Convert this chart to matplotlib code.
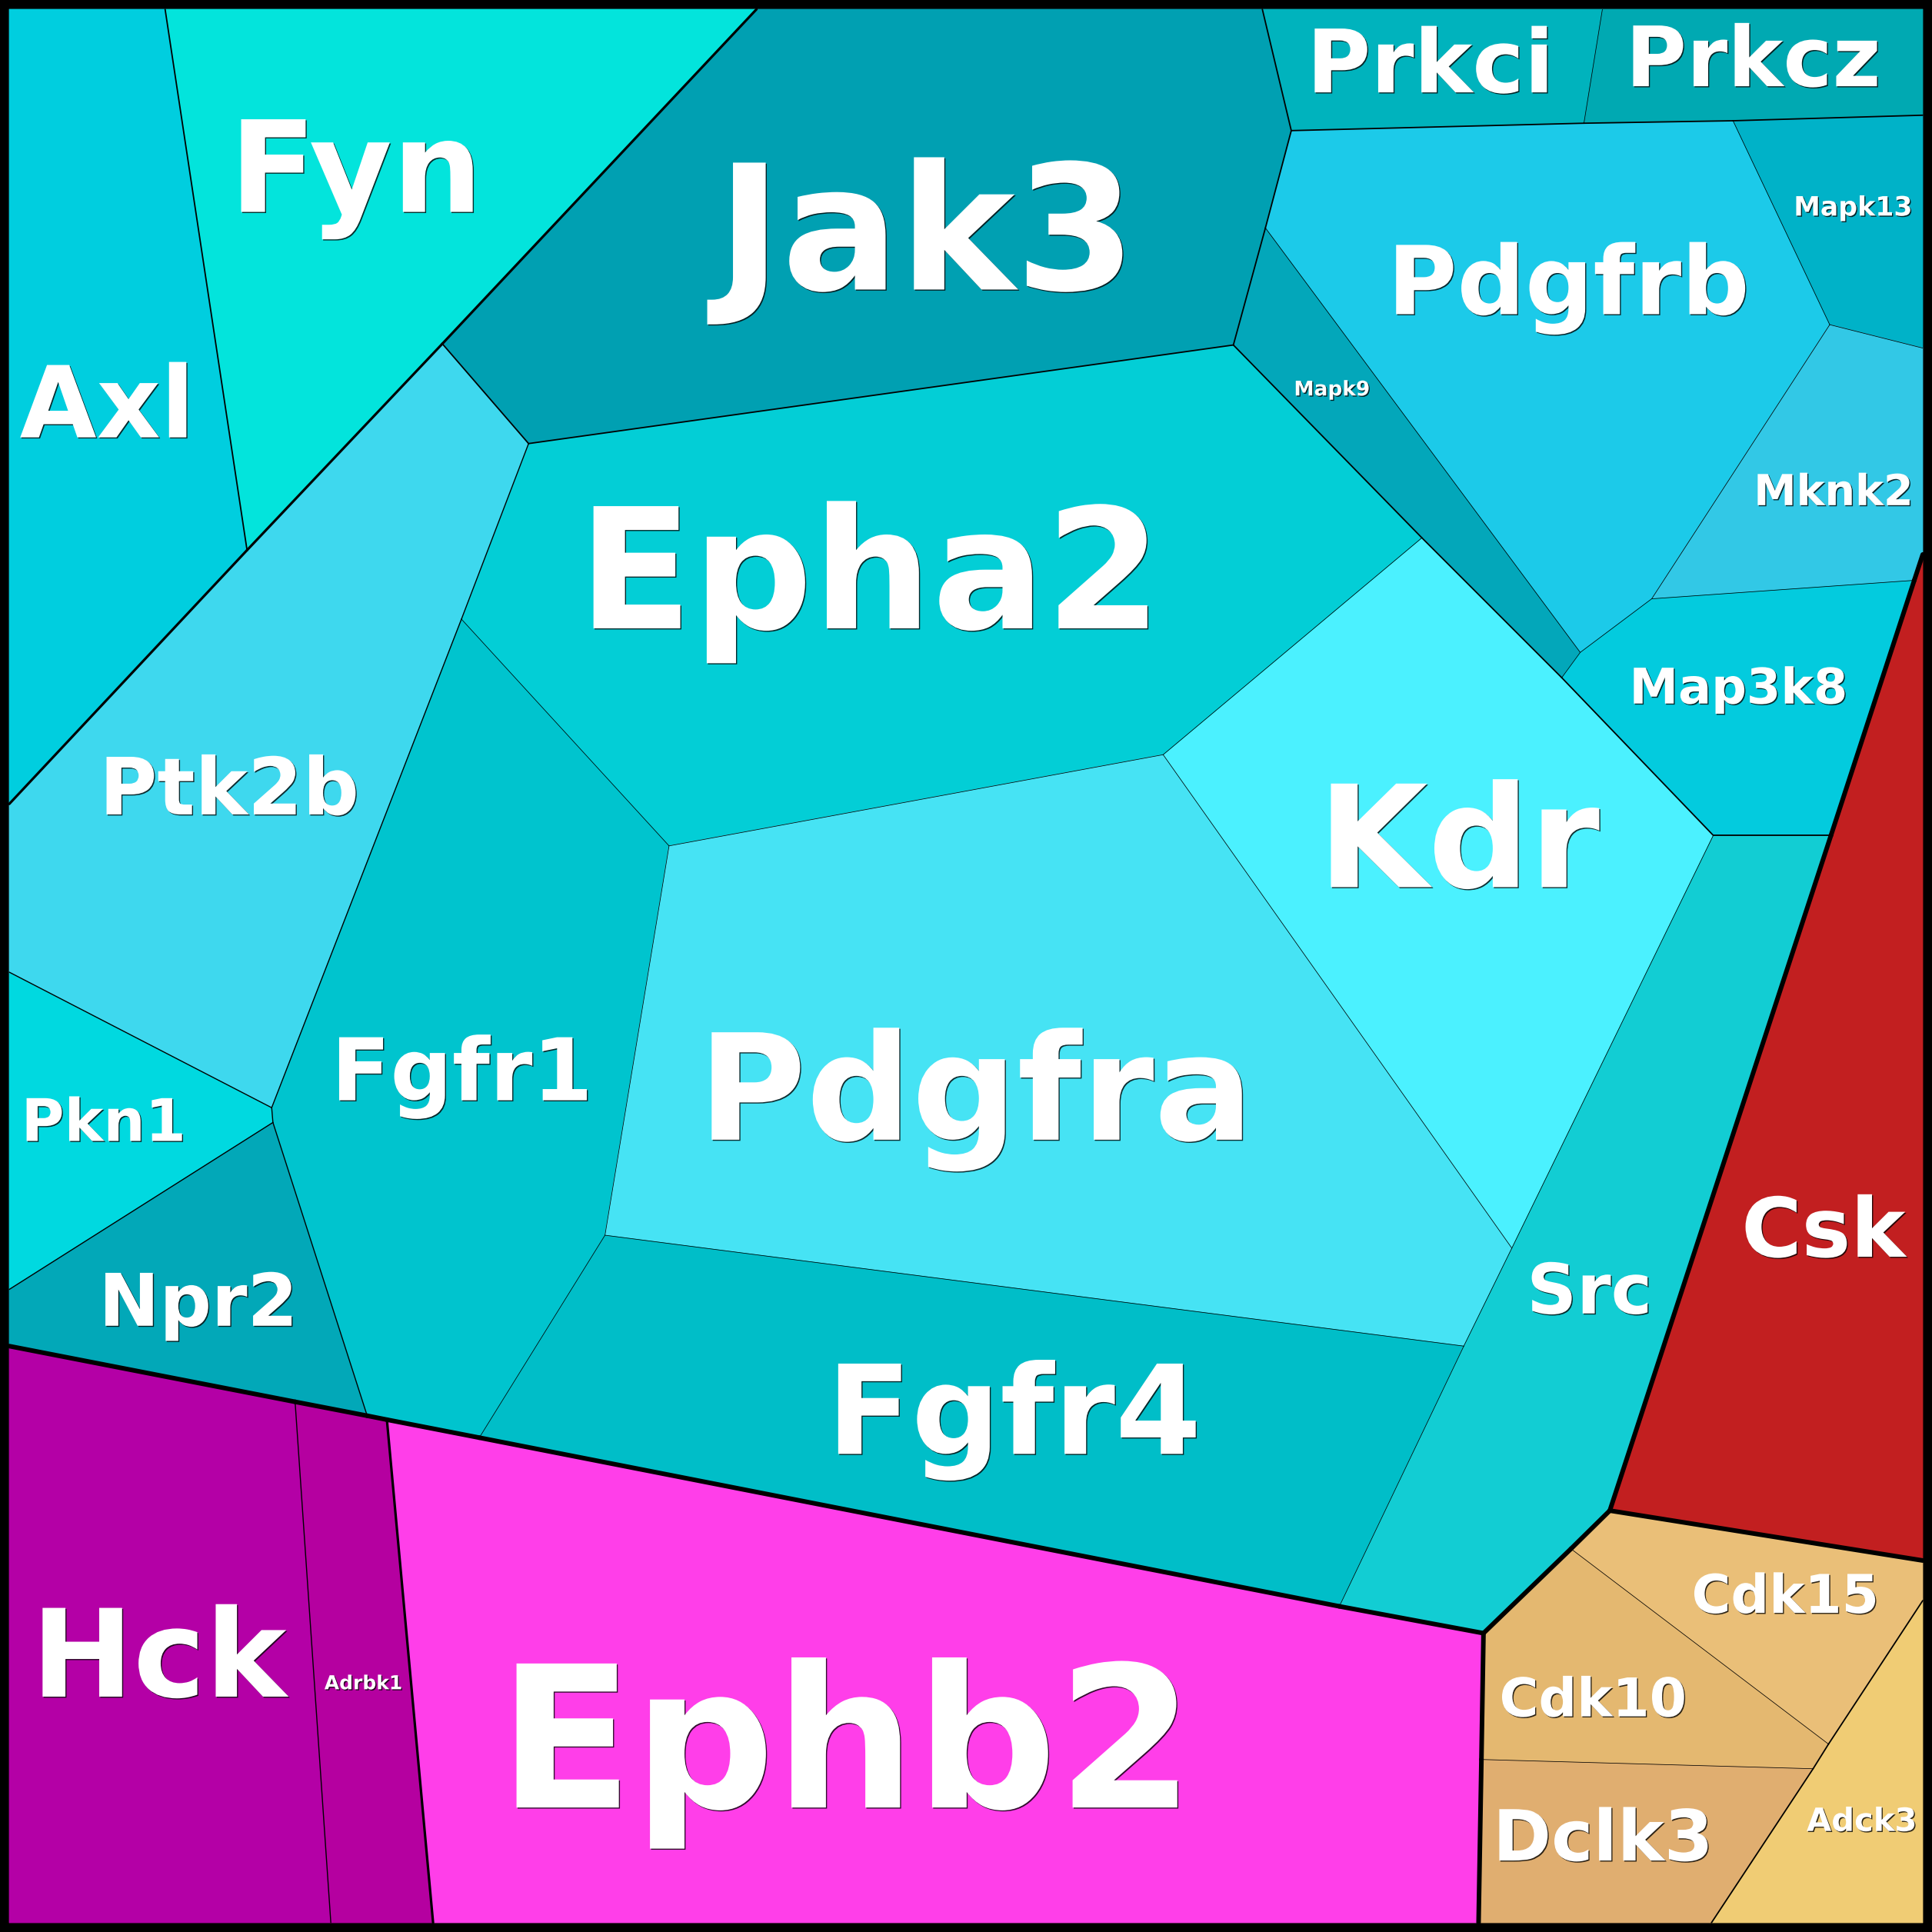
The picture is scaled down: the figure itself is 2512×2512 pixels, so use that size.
import matplotlib
matplotlib.use("Agg")
import matplotlib.pyplot as plt
import matplotlib.patheffects as pe
from matplotlib.patches import Polygon
from matplotlib.collections import LineCollection

# canvas is 1568 x 1568 units, y grows downwards, frame inner edge at 7.5
LO, HI = 7.5, 1560.5

# shared corner points of the voronoi cells
vertices = {
    "TL": (LO, LO), "TR": (HI, LO), "BL": (LO, HI), "BR": (HI, HI),
    "a1": (134, LO), "a2": (614, LO), "a3": (1024.5, LO), "a4": (1300.5, LO),
    "b1": (359, 279), "b2": (200.5, 446.5), "b3": (LO, 652.5),
    "b4": (429, 360), "b5": (374.5, 502.5), "b6": (543, 686.5),
    "c1": (1001, 280), "c2": (1027, 185), "c3": (1048, 106),
    "c4": (1285.5, 100), "c5": (1406.5, 98), "c6": (HI, 93.5),
    "c7": (1485, 263.5), "c8": (HI, 282.5), "c9": (HI, 450),
    "c10": (1553.6, 471), "c11": (1340.5, 486), "c12": (1282.5, 529.5),
    "c13": (1267.5, 550), "c14": (1154, 436.5),
    "d1": (1390.5, 678), "d2": (1486, 678),
    "e1": (944, 612.5), "e2": (1227, 1013), "e3": (1188, 1092.5),
    "e4": (491, 1002.5),
    "f1": (LO, 789), "f2": (220.5, 899), "f3": (221.5, 911),
    "f4": (LO, 1046.5), "f5": (LO, 1092.5), "f6": (298, 1149),
    "f7": (389, 1166.8), "f8": (1087, 1303.7),
    "g1": (239.5, 1137.7), "g2": (314, 1152.2), "g3": (268.5, HI),
    "g4": (351.5, HI),
    "h1": (1204, 1325.5), "h2": (1306.5, 1226), "h3": (1275, 1257),
    "h4": (HI, 1266.5), "h5": (HI, 1299), "h6": (1484, 1415.5),
    "h7": (1471.5, 1435.5), "h8": (1202.3, 1428), "h9": (1200, HI),
    "h10": (1389, HI),
}

labels = ["Axl", "Fyn", "Jak3", "Prkci", "Prkcz", "Pdgfrb", "Mapk13", "Mknk2",
          "Mapk9", "Map3k8", "Kdr", "Epha2", "Ptk2b", "Pkn1", "Npr2", "Fgfr1",
          "Pdgfra", "Fgfr4", "Src", "Csk", "Hck", "Adrbk1", "Ephb2",
          "Cdk15", "Cdk10", "Dclk3", "Adck3"]

cells = [
    ["TL", "a1", "b2", "b3"],
    ["a1", "a2", "b1", "b2"],
    ["a2", "a3", "c3", "c2", "c1", "b4", "b1"],
    ["a3", "a4", "c4", "c3"],
    ["a4", "TR", "c6", "c5", "c4"],
    ["c3", "c4", "c5", "c7", "c11", "c12", "c2"],
    ["c5", "c6", "c8", "c7"],
    ["c7", "c8", "c9", "c10", "c11"],
    ["c2", "c12", "c13", "c14", "c1"],
    ["c12", "c11", "c10", "d2", "d1", "c13"],
    ["c14", "c13", "d1", "e2", "e1"],
    ["b4", "c1", "c14", "e1", "b6", "b5"],
    ["f1", "b3", "b2", "b1", "b4", "b5", "f2"],
    ["f1", "f2", "f3", "f4"],
    ["f4", "f3", "f6", "g1", "f5"],
    ["b5", "b6", "e4", "f7", "g2", "f6", "f3", "f2"],
    ["b6", "e1", "e2", "e3", "e4"],
    ["e4", "e3", "f8", "f7"],
    ["d1", "d2", "h2", "h3", "h1", "f8", "e3", "e2"],
    ["c9", "h4", "h2", "d2", "c10"],
    ["f5", "g1", "g3", "BL"],
    ["g1", "f6", "g2", "g4", "g3"],
    ["g2", "f7", "f8", "h1", "h8", "h9", "g4"],
    ["h2", "h4", "h5", "h6", "h3"],
    ["h3", "h6", "h7", "h8", "h1"],
    ["h8", "h7", "h10", "h9"],
    ["h6", "h5", "BR", "h10", "h7"],
]

# nesting of each cell: group / subgroup / sub-subgroup / leaf group
hierarchy = [
    ("TK", "AF", "x", "x"), ("TK", "AF", "y", "y"), ("TK", "R", "J", "j"),
    ("TK", "R", "P", "p"), ("TK", "R", "P", "p"),
    ("TK", "R", "D", "d"), ("TK", "R", "D", "d"), ("TK", "R", "D", "d"),
    ("TK", "R", "D", "d"), ("TK", "R", "D", "d"),
    ("TK", "R", "E", "e4"), ("TK", "R", "E", "e4"), ("TK", "R", "E", "e1"),
    ("TK", "R", "E", "e2"), ("TK", "R", "E", "e3"), ("TK", "R", "E", "e4"),
    ("TK", "R", "E", "e4"), ("TK", "R", "E", "e4"), ("TK", "R", "E", "e4"),
    ("CSK", "C", "c", "c"),
    ("MG", "H", "h", "h"), ("MG", "H", "h", "a"), ("MG", "B", "b", "b"),
    ("OR", "O", "C", "c"), ("OR", "O", "C", "c"), ("OR", "O", "C", "c"),
    ("OR", "O", "A", "a"),
]

colors = ["#00cedf", "#03e4dc", "#00a0b2", "#00b3bd", "#00a9b2", "#1ccae9",
          "#00b2c8", "#32c8e6", "#03a7ba", "#03cbde", "#4bf1ff", "#03ced6",
          "#3ed8ee", "#00d9e0", "#02a8b8", "#00c4ce", "#46e3f4", "#00bec8",
          "#12cdd3", "#c21f20", "#b400a6", "#b500a0", "#ff3ee9",
          "#eabf78", "#e4b870", "#e0ae70", "#f0cc74"]

# label anchor: centre x, baseline y
label_x = [87, 289, 752, 1161, 1423, 1273, 1504, 1488, 1081, 1411, 1184, 706,
           186, 84, 161, 375, 792, 823, 1290, 1480, 129, 295, 687,
           1449, 1293, 1301, 1511]
label_y = [355, 172, 235, 75, 70, 255, 175, 410, 321, 571, 720, 510,
           661, 926, 1076, 893, 925, 1180, 1066, 1020, 1377, 1371, 1467,
           1309, 1393, 1510, 1486]
font_sizes = [93, 119, 163, 82, 78, 89, 25, 40, 19, 46, 133, 157,
              74, 55, 68, 81, 138, 116, 65, 77, 114, 18, 185,
              50, 50, 66, 30]

# line width (pt) by the level where two neighbouring cells part ways
edge_widths = [4.3, 2.3, 1.3, 1.0, 0.55]


def divergence(h1, h2):
    for i, (u, v) in enumerate(zip(h1, h2)):
        if u != v:
            return i
    return len(h1)


fig = plt.figure(figsize=(25.12, 25.12), dpi=100, facecolor="black")
ax = fig.add_axes([0, 0, 1, 1])
ax.set_xlim(0, 1568)
ax.set_ylim(1568, 0)
ax.axis("off")
ax.set_facecolor("black")

for cell, col in zip(cells, colors):
    xy = [vertices[k] for k in cell]
    ax.add_patch(Polygon(xy, closed=True, facecolor=col, edgecolor=col,
                         lw=0.6, joinstyle="round"))

# collect shared edges
edges = {}
for idx, cell in enumerate(cells):
    for k in range(len(cell)):
        key = frozenset((cell[k], cell[(k + 1) % len(cell)]))
        edges.setdefault(key, []).append(idx)

segments = [[] for _ in edge_widths]
for key, owners in edges.items():
    if len(owners) < 2:
        continue
    lvl = divergence(hierarchy[owners[0]], hierarchy[owners[1]])
    p, q = tuple(key)
    segments[lvl].append([vertices[p], vertices[q]])

for lvl in reversed(range(len(edge_widths))):
    ax.add_collection(LineCollection(segments[lvl], colors="black",
                                     linewidths=edge_widths[lvl],
                                     capstyle="round", joinstyle="round"))

shadow = [pe.SimplePatchShadow(offset=(1.0, -1.0), shadow_rgbFace="black",
                               alpha=0.8), pe.Normal()]
for name, x, y, fs in zip(labels, label_x, label_y, font_sizes):
    ax.text(x, y, name, ha="center", va="baseline", color="white",
            fontsize=fs, fontweight="bold", family="DejaVu Sans",
            path_effects=shadow)

fig.savefig("out.png", dpi=100, facecolor="black")
